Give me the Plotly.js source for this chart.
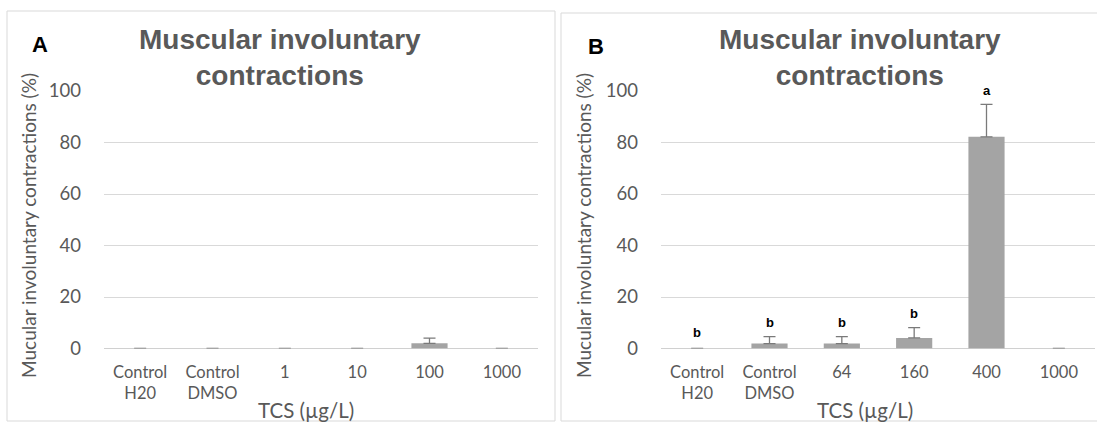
<!DOCTYPE html>
<html>
<head>
<meta charset="utf-8">
<script src="https://cdn.plot.ly/plotly-3.0.1.min.js"></script>
<style>html,body{margin:0;padding:0;background:#fff}#chart{width:1097px;height:425px}</style>
</head>
<body>
<div id="chart"></div>
<script>
// ---- data ----
var categoriesA = ['Control<br>H20', 'Control<br>DMSO', '1', '10', '100', '1000'];
var valuesA = [0, 0, 0, 0, 2, 0];
var errorsA = [0, 0, 0, 0, 2, 0];

var categoriesB = ['Control<br>H20', 'Control<br>DMSO', '64', '160', '400', '1000'];
var valuesB = [0, 1.9, 1.9, 4.1, 82.2, 0];
var errorsB = [0, 2.7, 2.7, 4.0, 12.6, 0];
var lettersB = ['b', 'b', 'b', 'b', 'a', ''];

var yTicks = [0, 20, 40, 60, 80, 100];
var chartTitle = 'Muscular involuntary<br>contractions';
var yTitle = 'Mucular involuntary contractions (%)';
var xTitle = 'TCS (µg/L)';
var panelLabels = ['A', 'B'];

// ---- layout helpers (pixel -> paper) ----
var W = 1097, H = 425;
function px(x) { return x / W; }
function py(y) { return 1 - y / H; }
function errArr(e) { return e.map(function (v) { return v > 0 ? v : NaN; }); }
function zeros(e) { return e.map(function () { return 0; }); }

var barColor = '#a4a4a4';
var gray = '#595959';
var grid = '#d9d9d9';

function bar(cats, vals, errs, xa, ya) {
  return {
    type: 'bar', x: cats, y: vals, xaxis: xa, yaxis: ya,
    width: 0.5,
    marker: { color: barColor, line: { width: 0 } },
    error_y: { type: 'data', array: errArr(errs), arrayminus: zeros(errs), symmetric: false,
               color: '#7a7a7a', thickness: 1.3, width: 6 },
    hoverinfo: 'x+y', showlegend: false
  };
}

var data = [
  bar(categoriesA, valuesA, errorsA, 'x', 'y'),
  bar(categoriesB, valuesB, errorsB, 'x2', 'y2')
];

var yDomain = [py(348.5), py(91)];
function xax(domain, anchor) {
  return {
    domain: domain, anchor: anchor, type: 'category', range: [-0.5, 5.5], autorange: false,
    showgrid: false, zeroline: false,
    showline: false, ticks: '', fixedrange: true,
    tickfont: { family: 'Lato, sans-serif', size: 16.5, color: gray },
    ticklabelstandoff: 12
  };
}
function yax(anchor) {
  return {
    domain: yDomain, anchor: anchor, range: [0, 100], autorange: false, tickvals: yTicks,
    showgrid: true, gridcolor: grid, gridwidth: 1,
    zeroline: true, zerolinecolor: '#d0d0d0', zerolinewidth: 1.3,
    showline: false, ticks: '', fixedrange: true,
    tickfont: { family: 'Lato, sans-serif', size: 18.5, color: gray },
    ticklabelstandoff: 22
  };
}

var annotations = [];
var panels = [
  { titleX: 280, letterX: 40, letterY: 45, yTitleX: 28, xTitleX: 306 },
  { titleX: 860, letterX: 596, letterY: 46, yTitleX: 583, xTitleX: 865 }
];
panels.forEach(function (p, i) {
  annotations.push({
    xref: 'paper', yref: 'paper', x: px(p.titleX), y: py(57.5), xanchor: 'center', yanchor: 'middle',
    text: '<b>' + chartTitle + '</b>', showarrow: false, align: 'center',
    font: { family: 'Liberation Sans, Arial, sans-serif', size: 28, color: gray }
  });
  annotations.push({
    xref: 'paper', yref: 'paper', x: px(p.letterX), y: py(p.letterY), xanchor: 'center', yanchor: 'middle',
    text: '<b>' + panelLabels[i] + '</b>', showarrow: false,
    font: { family: 'Liberation Sans, Arial, sans-serif', size: 22, color: '#000' }
  });
  annotations.push({
    xref: 'paper', yref: 'paper', x: px(p.yTitleX), y: py(226), xanchor: 'center', yanchor: 'middle',
    text: yTitle, textangle: -90, showarrow: false,
    font: { family: 'Lato, sans-serif', size: 19, color: gray }
  });
  annotations.push({
    xref: 'paper', yref: 'paper', x: px(p.xTitleX), y: py(410), xanchor: 'center', yanchor: 'middle',
    text: xTitle, showarrow: false,
    font: { family: 'Lato, sans-serif', size: 20.5, color: gray }
  });
});
lettersB.forEach(function (t, i) {
  if (!t) return;
  annotations.push({
    xref: 'x2', yref: 'y2', x: i, y: valuesB[i] + errorsB[i],
    yanchor: 'middle', xanchor: 'center', yshift: (errorsB[i] > 0 ? 14 : 16),
    text: '<b>' + t + '</b>', showarrow: false,
    font: { family: 'Liberation Sans, Arial, sans-serif', size: 13, color: '#000' }
  });
});

var shapes = [
  { type: 'rect', xref: 'paper', yref: 'paper', x0: px(7), x1: px(555), y0: py(421), y1: py(11),
    line: { color: '#d9d9d9', width: 1 }, fillcolor: 'rgba(0,0,0,0)' },
  { type: 'rect', xref: 'paper', yref: 'paper', x0: px(561), x1: px(1110), y0: py(421), y1: py(13),
    line: { color: '#d9d9d9', width: 1 }, fillcolor: 'rgba(0,0,0,0)' }
];

var layout = {
  width: W, height: H,
  margin: { l: 0, r: 0, t: 0, b: 0, pad: 0 },
  paper_bgcolor: '#fff', plot_bgcolor: 'rgba(0,0,0,0)',
  showlegend: false, bargap: 0.5,
  xaxis: xax([px(104), px(538)], 'y'),
  yaxis: yax('x'),
  xaxis2: xax([px(661), px(1095)], 'y2'),
  yaxis2: yax('x2'),
  annotations: annotations,
  shapes: shapes
};

Plotly.newPlot('chart', data, layout, { displayModeBar: false, staticPlot: true });
</script>
</body>
</html>
